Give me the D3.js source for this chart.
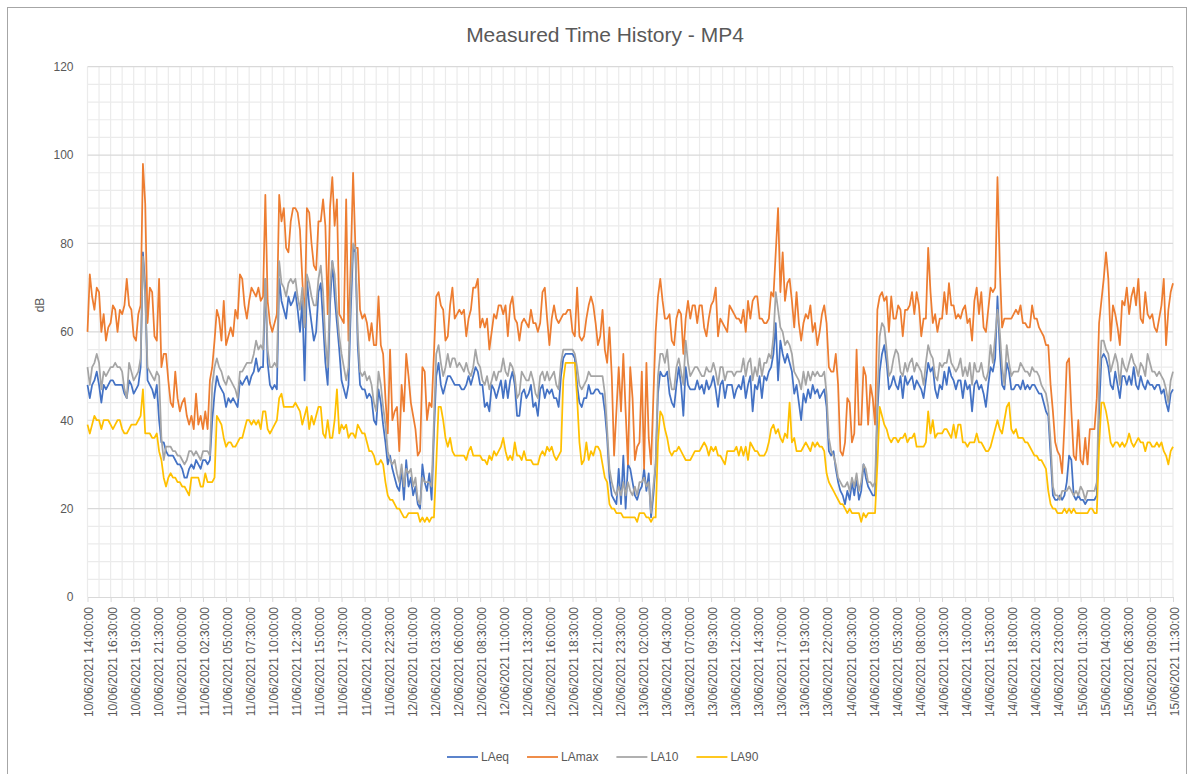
<!DOCTYPE html>
<html>
<head>
<meta charset="utf-8">
<script src="https://cdn.jsdelivr.net/npm/d3@7"></script>
<style>
  body { margin: 0; background: #fff; }
  svg { display: block; font-family: "Liberation Sans", Arial, sans-serif; }
</style>
</head>
<body>
<div id="chart"></div>
<script>
// Measured Time History - MP4, 15 minute samples from 10/06/2021 14:00 to 15/06/2021 11:30

const tickLabels = [
  "10/06/2021 14:00:00", "10/06/2021 16:30:00", "10/06/2021 19:00:00", "10/06/2021 21:30:00",
  "11/06/2021 00:00:00", "11/06/2021 02:30:00", "11/06/2021 05:00:00", "11/06/2021 07:30:00",
  "11/06/2021 10:00:00", "11/06/2021 12:30:00", "11/06/2021 15:00:00", "11/06/2021 17:30:00",
  "11/06/2021 20:00:00", "11/06/2021 22:30:00",
  "12/06/2021 01:00:00", "12/06/2021 03:30:00", "12/06/2021 06:00:00", "12/06/2021 08:30:00",
  "12/06/2021 11:00:00", "12/06/2021 13:30:00", "12/06/2021 16:00:00", "12/06/2021 18:30:00",
  "12/06/2021 21:00:00", "12/06/2021 23:30:00",
  "13/06/2021 02:00:00", "13/06/2021 04:30:00", "13/06/2021 07:00:00", "13/06/2021 09:30:00",
  "13/06/2021 12:00:00", "13/06/2021 14:30:00", "13/06/2021 17:00:00", "13/06/2021 19:30:00",
  "13/06/2021 22:00:00",
  "14/06/2021 00:30:00", "14/06/2021 03:00:00", "14/06/2021 05:30:00", "14/06/2021 08:00:00",
  "14/06/2021 10:30:00", "14/06/2021 13:00:00", "14/06/2021 15:30:00", "14/06/2021 18:00:00",
  "14/06/2021 20:30:00", "14/06/2021 23:00:00",
  "15/06/2021 01:30:00", "15/06/2021 04:00:00", "15/06/2021 06:30:00", "15/06/2021 09:00:00",
  "15/06/2021 11:30:00"
];

const yTicks = [0, 20, 40, 60, 80, 100, 120];

const seriesNames = ["LAeq", "LAmax", "LA10", "LA90"];

// one value every 15 minutes, 471 samples per series (10 per line)
const laeq = [
  48,45,48,49,51,48,44,48,47,48,
  49,49,48,48,48,48,46,45,49,48,
  46,47,48,52,78,70,49,48,47,45,
  48,40,35,35,33,32,32,32,31,30,
  30,29,27,27,29,30,29,31,30,29,
  31,31,30,31,40,46,50,48,47,46,
  43,45,44,45,44,43,49,48,49,50,
  48,50,51,54,51,52,52,72,53,48,
  47,48,47,72,67,65,63,68,66,67,
  69,65,60,67,49,72,66,62,58,60,
  69,71,62,53,48,66,76,68,62,56,
  49,47,45,48,65,79,78,57,48,47,
  47,45,46,45,40,39,47,44,39,35,
  30,32,29,27,25,24,29,22,31,25,
  27,23,25,21,20,30,26,24,28,22,
  37,50,53,48,46,48,50,50,49,48,
  48,48,47,47,48,50,48,50,52,51,
  48,48,43,44,42,48,47,45,47,49,
  45,49,45,49,51,48,41,41,46,47,
  45,46,48,43,44,41,47,48,45,47,
  46,47,45,45,43,50,54,55,55,55,
  55,54,48,44,43,45,45,48,46,46,
  47,47,46,46,42,36,27,23,22,21,
  29,21,32,20,30,29,26,23,22,24,
  25,29,24,28,18,23,30,46,51,50,
  50,51,46,44,43,48,52,48,41,52,
  48,47,47,47,49,47,48,46,49,47,
  48,50,47,43,48,49,45,48,48,48,
  45,47,48,47,50,45,48,50,42,48,
  47,50,45,50,49,51,52,55,62,49,
  58,55,53,55,53,51,46,48,44,40,
  46,44,47,45,48,46,47,45,46,47,
  43,33,32,33,29,26,24,23,21,24,
  22,26,23,27,22,24,30,27,25,24,
  23,23,42,51,55,57,53,47,48,50,
  48,47,50,45,50,48,49,50,47,49,
  48,47,45,49,53,51,52,47,45,48,
  47,51,48,52,50,49,47,49,49,45,
  49,47,48,42,48,49,47,48,46,43,
  48,52,51,54,68,56,48,47,53,51,
  47,47,48,48,47,49,47,48,47,48,
  48,47,46,46,44,42,41,32,23,22,
  22,23,22,23,26,32,31,23,22,23,
  22,22,21,22,22,22,22,23,42,54,
  55,54,52,48,47,51,48,45,50,50,
  48,50,48,52,48,47,50,48,47,49,
  48,48,47,48,48,46,47,44,42,46,
  47
];

const lamax = [
  60,73,68,65,70,69,60,64,58,61,
  62,66,65,60,65,64,66,72,66,65,
  59,58,64,66,98,89,62,70,69,59,
  58,72,52,55,55,49,44,43,51,45,
  42,44,45,41,39,41,38,46,39,41,
  38,42,38,49,52,58,65,63,58,67,
  57,59,61,59,65,63,73,72,66,63,
  67,70,69,68,70,67,68,91,67,62,
  60,62,64,91,85,88,79,78,85,88,
  88,87,83,72,62,88,87,80,75,74,
  85,85,90,84,64,88,95,84,90,64,
  63,62,90,58,76,96,79,79,65,63,
  64,62,58,62,57,57,68,57,55,45,
  37,56,40,42,43,33,48,42,55,50,
  44,41,38,32,33,52,51,40,44,43,
  55,68,69,66,65,58,59,66,70,63,
  64,65,64,65,59,63,65,70,70,72,
  61,63,61,63,56,60,64,63,66,66,
  64,66,59,66,68,63,62,58,62,63,
  62,61,65,62,62,60,62,69,70,63,
  57,63,66,63,62,63,64,64,65,65,
  60,59,70,59,58,59,63,66,68,66,
  62,57,59,65,56,53,61,50,32,42,
  52,42,55,42,30,52,45,31,34,35,
  51,29,53,36,30,45,60,68,72,67,
  63,63,64,58,57,63,65,64,55,63,
  67,63,66,66,62,66,66,61,59,63,
  66,67,70,59,63,62,61,60,66,65,
  64,63,63,62,65,60,67,63,67,68,
  68,63,63,62,62,63,69,68,78,88,
  69,78,67,71,72,67,61,69,62,58,
  62,64,63,66,60,62,57,60,64,66,
  62,52,51,51,55,48,33,32,35,45,
  44,35,37,56,39,39,52,50,39,48,
  45,39,65,68,69,67,68,60,68,63,
  63,66,65,59,65,65,66,69,64,69,
  66,59,63,63,79,69,62,64,60,63,
  63,69,64,71,66,66,63,64,63,65,
  66,62,63,58,67,70,64,69,61,60,
  65,70,69,70,95,75,61,63,63,63,
  63,64,65,64,66,62,62,61,61,66,
  63,63,61,60,59,57,57,48,42,35,
  33,32,28,39,53,54,42,32,31,40,
  31,30,36,30,38,38,38,45,62,67,
  72,78,72,58,66,64,61,57,67,66,
  70,64,68,70,66,72,63,62,69,64,
  63,64,61,60,63,66,72,57,65,69,
  71
];

const la10 = [
  52,48,52,53,55,53,47,51,50,51,
  52,52,53,52,52,51,47,45,53,51,
  49,50,51,54,77,68,52,51,50,49,
  51,50,36,31,34,34,34,33,33,32,
  32,31,30,31,33,33,32,33,32,31,
  33,33,33,32,48,52,54,52,51,49,
  48,50,49,48,47,45,51,51,52,53,
  53,53,55,58,56,57,56,72,56,52,
  52,53,52,76,71,70,68,71,72,71,
  72,68,65,70,61,73,71,68,66,66,
  72,75,69,58,52,70,76,73,65,59,
  55,52,49,52,70,80,79,60,51,50,
  51,49,50,48,44,42,51,48,43,39,
  33,31,30,31,28,26,30,25,29,28,
  29,25,27,22,21,27,26,26,26,25,
  40,55,57,53,50,52,55,52,54,54,
  52,53,52,51,53,51,50,52,56,53,
  52,49,48,50,47,49,51,49,51,51,
  54,51,50,53,52,50,45,46,51,50,
  49,49,51,49,46,45,50,51,49,51,
  49,50,51,48,47,53,56,56,56,56,
  56,55,52,48,47,48,49,51,50,50,
  50,50,50,50,46,38,29,26,24,23,
  25,23,26,23,26,24,23,25,23,26,
  26,27,25,26,19,25,30,50,55,55,
  53,56,50,47,47,52,54,51,48,58,
  53,50,51,52,52,51,50,50,52,51,
  51,53,51,48,52,52,49,51,51,51,
  50,51,51,51,54,50,53,54,49,52,
  50,54,50,53,53,55,54,59,69,65,
  61,60,57,58,57,55,51,50,49,47,
  51,48,51,49,51,50,51,50,50,51,
  46,36,33,32,30,27,26,25,25,26,
  24,27,25,28,24,26,30,29,26,26,
  25,26,45,59,62,61,56,50,51,54,
  56,55,51,50,53,51,53,54,51,53,
  52,51,48,53,57,55,54,50,49,53,
  52,53,53,56,53,52,51,52,54,50,
  52,50,53,48,53,51,51,53,50,49,
  51,57,53,59,65,60,52,48,57,53,
  50,51,51,51,53,52,51,51,50,52,
  51,51,50,48,47,46,43,35,25,23,
  23,22,24,24,24,25,24,23,24,23,
  25,24,22,24,24,24,24,26,48,58,
  58,56,55,51,53,55,53,48,54,52,
  51,53,55,53,52,50,53,52,50,55,
  53,51,51,50,51,50,49,47,44,49,
  51
];

const la90 = [
  39,37,39,41,40,40,38,40,40,40,
  39,38,39,40,40,38,37,37,38,39,
  39,39,40,41,47,37,37,37,36,36,
  37,33,31,27,25,27,28,27,27,26,
  26,25,25,24,23,27,27,27,27,25,
  25,28,26,26,26,27,41,40,39,36,
  34,35,35,34,34,35,36,36,38,40,
  40,39,40,39,40,38,42,42,38,37,
  38,39,40,45,46,43,43,43,43,43,
  44,43,42,39,41,43,38,41,39,41,
  43,43,37,36,40,36,36,40,47,37,
  39,38,39,36,37,37,36,39,38,37,
  37,35,33,33,32,30,30,31,30,26,
  23,22,22,21,20,20,19,18,18,19,
  19,19,19,19,17,18,17,18,17,18,
  18,30,43,43,40,36,34,36,33,32,
  32,32,32,32,31,33,34,32,32,32,
  32,31,31,30,32,31,33,32,33,34,
  36,33,31,32,31,35,32,32,31,33,
  31,31,31,30,30,30,32,33,32,34,
  33,34,32,31,32,33,49,53,53,53,
  53,53,45,35,30,31,35,31,33,32,
  34,34,33,30,27,26,21,20,20,19,
  19,19,18,18,18,18,18,18,17,19,
  19,19,18,18,17,18,18,35,42,41,
  38,36,33,32,33,33,34,33,32,31,
  31,31,32,33,33,33,34,35,34,32,
  34,33,34,32,32,31,30,33,33,33,
  33,34,32,34,32,34,31,35,34,33,
  33,32,32,32,33,35,38,39,37,38,
  36,35,37,36,44,35,36,33,33,33,
  34,35,34,33,35,34,35,34,34,33,
  28,26,25,24,23,22,21,21,20,19,
  20,19,19,19,19,17,19,18,19,19,
  19,19,30,43,41,39,38,36,35,36,
  36,35,36,36,37,35,36,36,37,34,
  34,34,34,35,42,37,40,36,37,37,
  37,38,38,37,36,39,36,39,39,35,
  35,34,35,35,35,37,35,35,34,33,
  33,34,36,38,40,38,37,40,43,44,
  38,37,38,36,36,36,35,35,34,33,
  32,32,31,31,30,29,24,21,20,20,
  19,19,19,20,19,20,19,20,19,19,
  19,19,19,19,20,20,19,19,34,44,
  44,42,39,35,34,35,35,34,35,34,
  35,37,35,34,35,36,35,35,33,35,
  35,34,34,35,34,35,33,32,30,33,
  34
];

const allSeries = [laeq, lamax, la10, la90];
const colors = ["#4472C4", "#ED7D31", "#A5A5A5", "#FFC000"];

allSeries.forEach((s, k) => {
  if (s.length !== 471) throw new Error(seriesNames[k] + " has " + s.length + " values");
});

const W = 1192, H = 774;
const plot = { left: 87.5, right: 1173, top: 66.7, bottom: 597 };
const textColor = "#595959";

const svg = d3.select("#chart").append("svg")
  .attr("width", W)
  .attr("height", H);

// chart border
svg.append("rect")
  .attr("x", 7.5).attr("y", 7.5)
  .attr("width", 1179).attr("height", 780)
  .attr("fill", "#fff")
  .attr("stroke", "#a6a6a6")
  .attr("stroke-width", 1);

const x = d3.scaleLinear().domain([0, 470]).range([plot.left, plot.right]);
const y = d3.scaleLinear().domain([0, 120]).range([plot.bottom, plot.top]);

// gridlines
const grid = svg.append("g");
grid.selectAll(".vgrid")
  .data(d3.range(0, 471, 5))
  .enter().append("line")
  .attr("x1", d => x(d)).attr("x2", d => x(d))
  .attr("y1", plot.top).attr("y2", plot.bottom)
  .attr("stroke", "#ebebeb")
  .attr("stroke-width", 1.2);

grid.selectAll(".hminor")
  .data(d3.range(0, 121, 4).filter(d => d % 20 !== 0))
  .enter().append("line")
  .attr("x1", plot.left).attr("x2", plot.right)
  .attr("y1", d => y(d)).attr("y2", d => y(d))
  .attr("stroke", "#ebebeb")
  .attr("stroke-width", 1.2);

grid.selectAll(".hmajor")
  .data(yTicks.filter(d => d > 0))
  .enter().append("line")
  .attr("x1", plot.left).attr("x2", plot.right)
  .attr("y1", d => y(d)).attr("y2", d => y(d))
  .attr("stroke", "#d9d9d9")
  .attr("stroke-width", 1.2);

// y axis labels
const yAxis = svg.append("g")
  .attr("transform", `translate(${plot.left},0)`)
  .call(d3.axisLeft(y).tickValues(yTicks).tickSize(0).tickPadding(14));
yAxis.select(".domain").remove();
yAxis.selectAll("text")
  .attr("fill", textColor)
  .style("font-size", "12px");

// y axis title
svg.append("text")
  .attr("transform", "translate(44,305) rotate(-90)")
  .attr("text-anchor", "middle")
  .attr("fill", textColor)
  .style("font-size", "12px")
  .text("dB");

// x axis
const xAxis = svg.append("g")
  .attr("transform", `translate(0,${plot.bottom})`)
  .call(d3.axisBottom(x)
    .tickValues(d3.range(0, 471, 10))
    .tickFormat((d, i) => tickLabels[i])
    .tickSize(5)
    .tickSizeOuter(0));
xAxis.select(".domain").attr("stroke", "#d9d9d9");
xAxis.selectAll(".tick line").attr("stroke", "#d9d9d9");
xAxis.selectAll("text")
  .attr("transform", "rotate(-90)")
  .attr("text-anchor", "end")
  .attr("x", -10)
  .attr("y", 0)
  .attr("dy", "0.45em")
  .attr("fill", textColor)
  .style("font-size", "12px");

// series lines
const line = d3.line()
  .x((d, i) => x(i))
  .y(d => y(d));

svg.selectAll(".series")
  .data(allSeries)
  .enter().append("path")
  .attr("class", "series")
  .attr("d", d => line(d))
  .attr("fill", "none")
  .attr("stroke", (d, i) => colors[i])
  .attr("stroke-width", 1.75)
  .attr("stroke-linejoin", "round");

// title
svg.append("text")
  .attr("x", 605)
  .attr("y", 42)
  .attr("text-anchor", "middle")
  .attr("fill", textColor)
  .style("font-size", "21px")
  .text("Measured Time History - MP4");

// legend
const legend = svg.append("g").attr("transform", "translate(447,757)");
let cursor = 0;
seriesNames.forEach((name, i) => {
  legend.append("line")
    .attr("x1", cursor).attr("x2", cursor + 31)
    .attr("y1", 0).attr("y2", 0)
    .attr("stroke", colors[i])
    .attr("stroke-width", 1.75);
  const t = legend.append("text")
    .attr("x", cursor + 34)
    .attr("y", 0)
    .attr("dy", "0.35em")
    .attr("fill", textColor)
    .style("font-size", "12px")
    .text(name);
  cursor += 34 + t.node().getComputedTextLength() + 18;
});
</script>
</body>
</html>
